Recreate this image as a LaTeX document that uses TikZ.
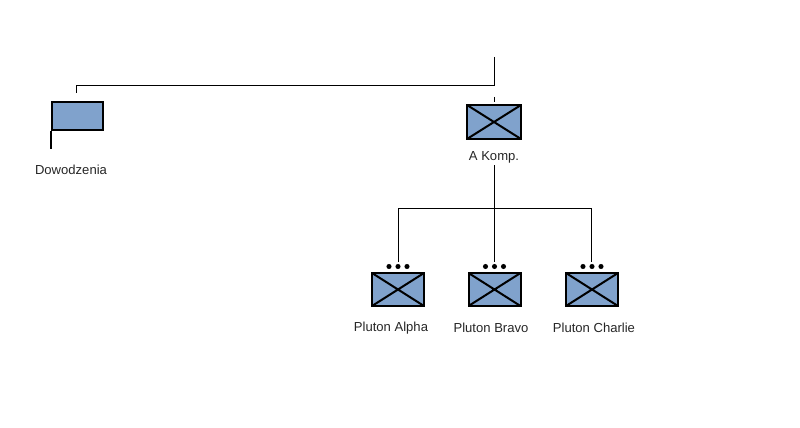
\documentclass[tikz,border=0pt]{standalone}
\usepackage{fontspec}
\setmainfont{Liberation Sans}
\definecolor{milblue}{RGB}{128,162,204}
\begin{document}
\begin{tikzpicture}[x=0.75pt,y=-0.75pt,
  unitbox/.style={draw=black,line width=1.5pt,fill=milblue,minimum width=39pt,minimum height=24.75pt,inner sep=0pt,
    path picture={\draw[line width=1.5pt] (path picture bounding box.south west)--(path picture bounding box.north east) (path picture bounding box.north west)--(path picture bounding box.south east);}},
  flagbox/.style={draw=black,line width=1.5pt,fill=milblue,minimum width=38.25pt,minimum height=21pt,inner sep=0pt},
  lbl/.style={font=\fontsize{9.8}{11}\selectfont,inner sep=0pt,text=black!85},
  conn/.style={line width=0.75pt,black}]
\useasboundingbox (0,0) rectangle (800,428);
% coordinates
\coordinate (top) at (494,57);
\coordinate (j1) at (494,86);
\coordinate (j2) at (76,86);
\coordinate (fl) at (76,93);
\coordinate (akt1) at (494,97);
\coordinate (akt2) at (494,102);
\coordinate (akb) at (494,165);
\coordinate (hl) at (398,208);
\coordinate (hr) at (591,208);
\coordinate (pat) at (398,262);
\coordinate (pbt) at (494,262);
\coordinate (pct) at (591,262);
% nodes
\node[flagbox] (d) at (77.5,116) {};
\draw[line width=1.5pt] (d.south west) -- ++(0,18);
\node[lbl] (dl) at (71,170) {Dowodzenia};
\node[unitbox,minimum width=40.5pt,minimum height=25.5pt] (ak) at (494,122) {};
\node[lbl] (akl) at (494,157) {A Komp.};
\node[unitbox] (pa) at (398,289.5) {};
\node[unitbox] (pb) at (494.5,289.5) {};
\node[unitbox] (pc) at (592,289.5) {};
\foreach \n in {pa,pb,pc}{
  \foreach \dx in {-9,0,9}{
    \fill (\n.north) ++(\dx,-5.5) circle[radius=1.9pt];
  }
}
\node[lbl] (pal) at (391,328) {Pluton Alpha};
\node[lbl] (pbl) at (491,328) {Pluton Bravo};
\node[lbl] (pcl) at (594,328) {Pluton Charlie};
% connectors
\draw[conn] (top) -- (j1) -- (j2) -- (fl);
\draw[conn] (akt1) -- (akt2);
\draw[conn] (akb) -- (pbt);
\draw[conn] (pat) -- (hl) -- (hr) -- (pct);
\end{tikzpicture}
\end{document}
